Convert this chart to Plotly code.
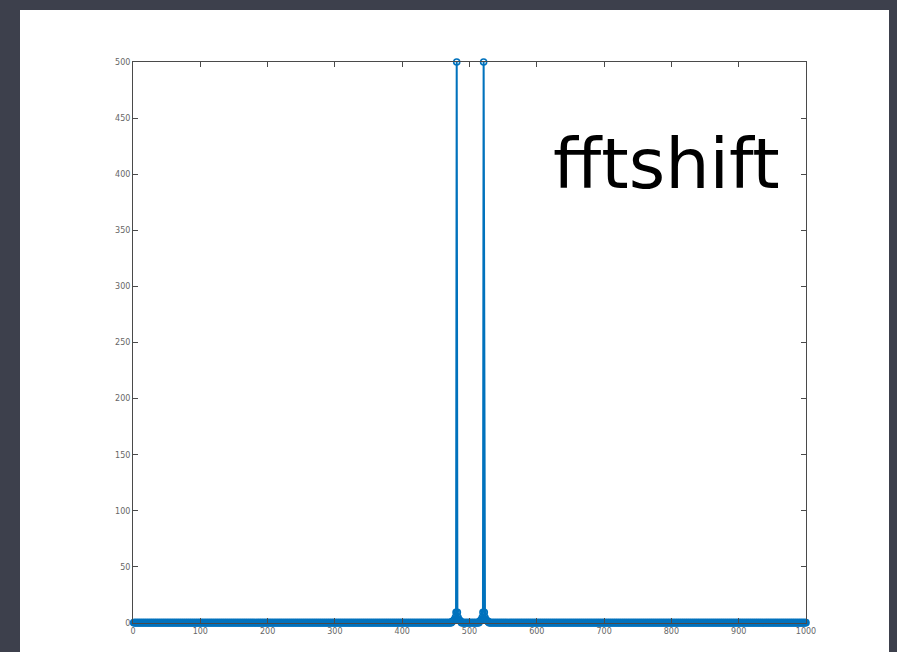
import numpy as np
import plotly.graph_objects as go

# Sample indices (MATLAB 1-based) and magnitude of the shifted spectrum
n_samples = list(range(1, 1001))
baseline_value = 0.3
# values read around the two spectral peaks
left_peak_idx = [474, 475, 476, 477, 478, 479, 480, 481, 482, 483, 484, 485, 486, 487]
left_peak_val = [1.2, 1.5, 1.9, 2.4, 3.3, 5.0, 9.5, 500, 9.5, 5.0, 3.3, 2.4, 1.9, 1.5]
right_peak_idx = [515, 516, 517, 518, 519, 520, 521, 522, 523, 524, 525, 526, 527, 528]
right_peak_val = [1.5, 1.9, 2.4, 3.3, 5.0, 9.5, 500, 9.5, 5.0, 3.3, 2.4, 1.9, 1.5, 1.2]

x_ticks = [0, 100, 200, 300, 400, 500, 600, 700, 800, 900, 1000]
y_ticks = [0, 50, 100, 150, 200, 250, 300, 350, 400, 450, 500]
title_text = "fftshift"

magnitude = [baseline_value] * len(n_samples)
for i, v in zip(left_peak_idx, left_peak_val):
    magnitude[i - 1] = v
for i, v in zip(right_peak_idx, right_peak_val):
    magnitude[i - 1] = v

W, H = 897, 652
L, R, T, B = 133, 806, 62, 623
pw, ph = R - L, B - T

def px(x):
    return (x - L) / pw

def py(y):
    return (B - y) / ph

blue = "#0072BD"
axc = "#4a4a4a"
dark = "#3d404c"

fig = go.Figure()
fig.add_trace(go.Scatter(
    x=n_samples, y=magnitude, mode="lines+markers",
    line=dict(color=blue, width=2),
    marker=dict(symbol="circle-open", size=6, color=blue, line=dict(width=1.6, color=blue)),
    cliponaxis=False, showlegend=False, hoverinfo="skip",
))

fig.add_shape(type="rect", xref="paper", yref="paper",
              x0=px(20), x1=px(889), y0=py(660), y1=py(10),
              fillcolor="white", line=dict(width=0), layer="below")

fig.add_annotation(text=title_text, xref="paper", yref="paper",
                   x=px(666), y=py(164), xanchor="center", yanchor="middle",
                   showarrow=False,
                   font=dict(family="DejaVu Sans", size=70, color="black"))

axis_common = dict(showline=True, mirror="ticks", linecolor=axc, linewidth=1,
                   ticks="inside", ticklen=5, tickcolor=axc, tickwidth=1,
                   showgrid=False, zeroline=False,
                   tickfont=dict(family="DejaVu Sans", size=8, color="#666666"))

fig.update_layout(
    width=W, height=H,
    margin=dict(l=L, r=W - R, t=T, b=H - B, pad=0),
    paper_bgcolor=dark, plot_bgcolor="white",
    xaxis=dict(range=[0, 1000], tickvals=x_ticks, ticktext=[str(v) for v in x_ticks], **axis_common),
    yaxis=dict(range=[0, 500], tickvals=y_ticks, ticktext=[str(v) for v in y_ticks], **axis_common),
)

fig.write_html("out.html", config={"displayModeBar": False},
               post_script="document.body.style.margin='0';document.body.style.background='%s';"
                           "document.body.style.overflow='hidden';" % dark)
